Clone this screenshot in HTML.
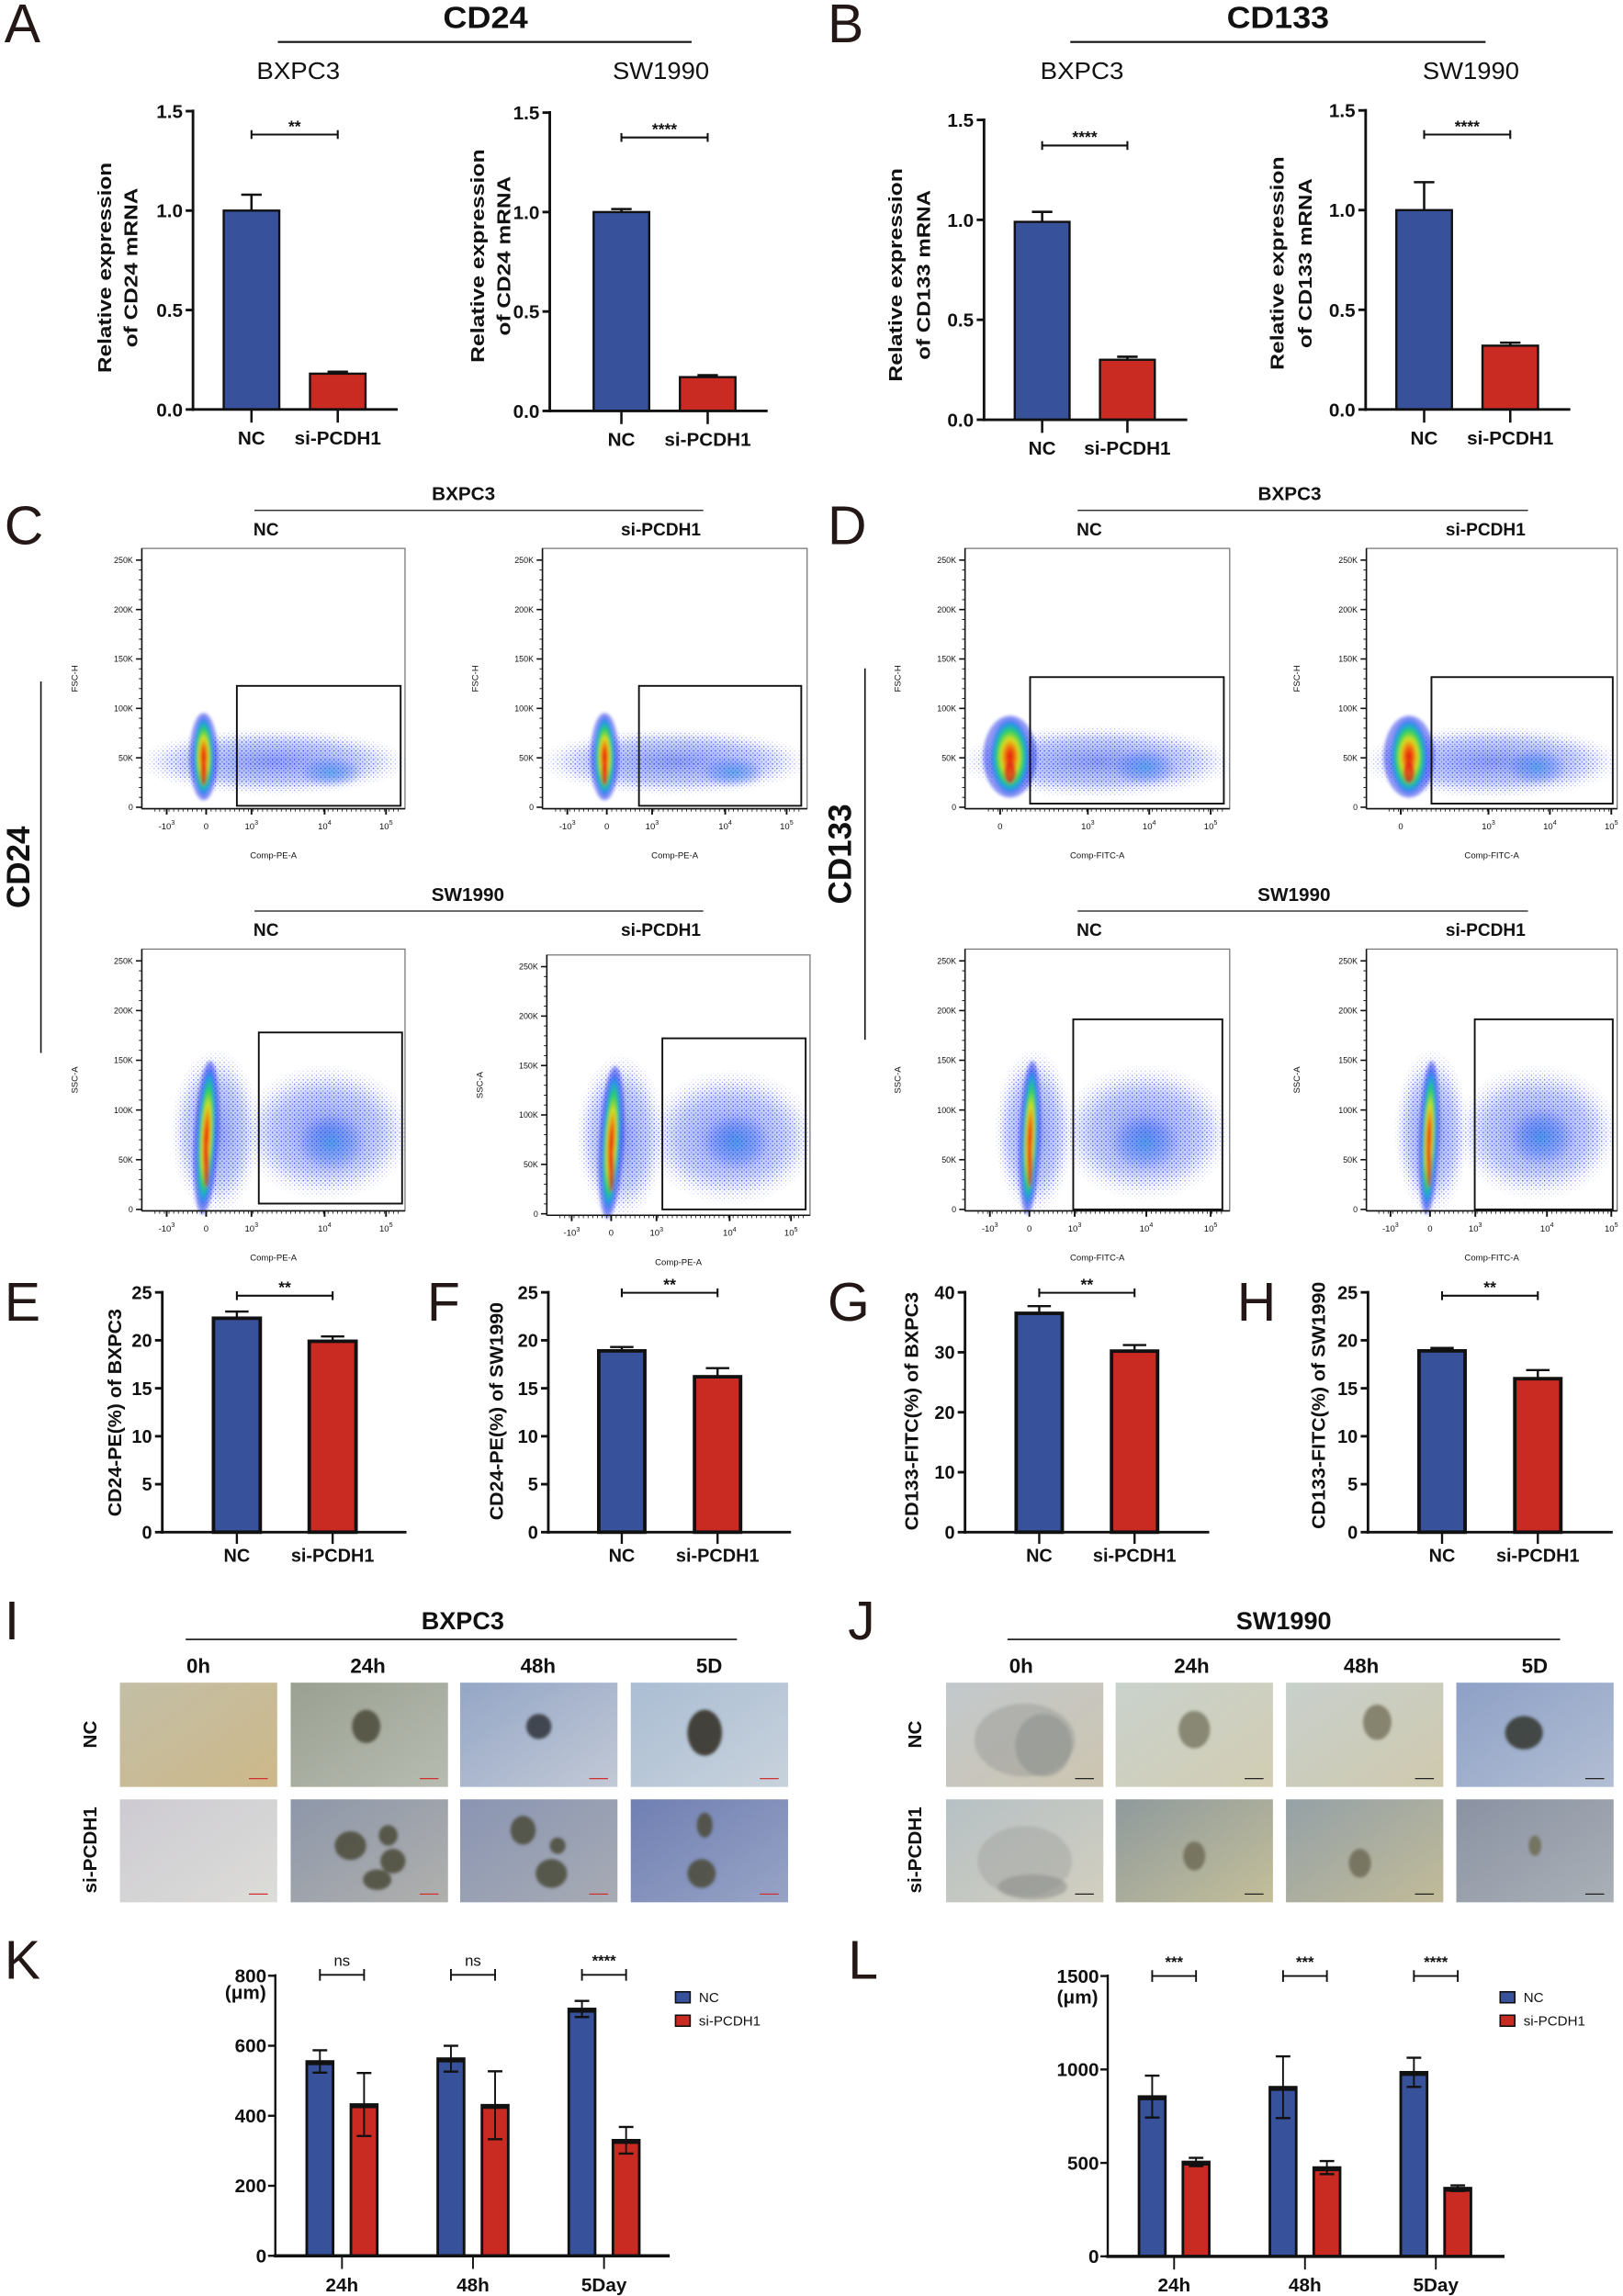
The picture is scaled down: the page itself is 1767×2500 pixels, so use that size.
<!DOCTYPE html>
<html><head><meta charset="utf-8">
<style>
html,body{margin:0;padding:0;background:#fff;}
svg{display:block;}
text{font-family:"Liberation Sans",Arial,sans-serif;}
</style></head>
<body>
<svg id="fig" xmlns="http://www.w3.org/2000/svg" width="1767" height="2500" viewBox="0 0 1110 1570" preserveAspectRatio="none">
<defs>
<radialGradient id="gDense" cx="50%" cy="50%" r="50%">
<stop offset="0" stop-color="#e01010"/><stop offset="0.25" stop-color="#f07010"/><stop offset="0.45" stop-color="#d8e020"/><stop offset="0.65" stop-color="#30d060"/><stop offset="0.82" stop-color="#20a0e0"/><stop offset="1" stop-color="#2030ff" stop-opacity="0"/>
</radialGradient>
<radialGradient id="gBlue" cx="50%" cy="50%" r="50%">
<stop offset="0" stop-color="#2040e8" stop-opacity="0.5"/><stop offset="0.7" stop-color="#3050f0" stop-opacity="0.25"/><stop offset="1" stop-color="#6070ff" stop-opacity="0"/>
</radialGradient>
<radialGradient id="gCyan" cx="50%" cy="50%" r="50%">
<stop offset="0" stop-color="#2090e0" stop-opacity="0.6"/><stop offset="1" stop-color="#2040f0" stop-opacity="0"/>
</radialGradient>
<radialGradient id="gMask" cx="50%" cy="50%" r="50%">
<stop offset="0" stop-color="#fff" stop-opacity="1"/><stop offset="0.75" stop-color="#fff" stop-opacity="0.8"/><stop offset="1" stop-color="#fff" stop-opacity="0"/>
</radialGradient>
<pattern id="pDots" width="3" height="3" patternUnits="userSpaceOnUse">
<rect x="0" y="0" width="0.8" height="0.8" fill="#1020f0"/><rect x="1.6" y="1.7" width="0.7" height="0.7" fill="#4060ff"/>
</pattern>
<filter id="fBlur" x="-30%" y="-30%" width="160%" height="160%"><feGaussianBlur stdDeviation="2"/></filter>
<filter id="fBlur1"><feGaussianBlur stdDeviation="1"/></filter>
</defs>
</svg>
<script>
// ===== Panel A / B data (qPCR) =====
const catsTwo = ['NC', 'si-PCDH1'];
const aBxpc3Mean = [1.0, 0.18];
const aBxpc3Err = [0.08, 0.01];
const aSw1990Mean = [1.0, 0.17];
const aSw1990Err = [0.015, 0.01];
const bBxpc3Mean = [0.99, 0.30];
const bBxpc3Err = [0.05, 0.015];
const bSw1990Mean = [1.0, 0.32];
const bSw1990Err = [0.14, 0.015];
const ticksExpr = [0, 0.5, 1.0, 1.5];
const tickLabelsExpr = ['0.0', '0.5', '1.0', '1.5'];
// ===== Panels E-H data (flow %) =====
const eMean = [22.3, 19.9];
const eErr = [0.7, 0.5];
const fMean = [18.9, 16.2];
const fErr = [0.4, 0.9];
const gMean = [36.5, 30.2];
const gErr = [1.2, 1.0];
const hMean = [18.9, 16.0];
const hErr = [0.3, 0.9];
const ticks25 = [0, 5, 10, 15, 20, 25];
const ticks40 = [0, 10, 20, 30, 40];
// ===== Panels K / L data (sphere diameter) =====
const timeCats = ['24h', '48h', '5Day'];
const seriesNames = ['NC', 'si-PCDH1'];
const kNcMean = [555, 563, 705];
const kNcErr = [32, 37, 23];
const kSiMean = [432, 430, 330];
const kSiErr = [90, 97, 38];
const kSig = ['ns', 'ns', '****'];
const kTicks = [0, 200, 400, 600, 800];
const lNcMean = [855, 905, 985];
const lNcErr = [112, 165, 78];
const lSiMean = [505, 475, 365];
const lSiErr = [22, 35, 15];
const lSig = ['***', '***', '****'];
const lTicks = [0, 500, 1000, 1500];

const NS = 'http://www.w3.org/2000/svg';
const svg = document.getElementById('fig');
const BLUE = '#37519b', RED = '#c92a22';

function mk(parent, tag, attrs, name, inter) {
  const el = document.createElementNS(NS, tag);
  for (const k in attrs) el.setAttribute(k, attrs[k]);
  
  
  parent.appendChild(el);
  return el;
}
function txt(parent, x, y, s, size, name, opt) {
  opt = opt || {};
  const a = {x: x, y: y, 'font-size': size, 'text-anchor': opt.anchor || 'middle', fill: opt.fill || '#111'};
  if (opt.bold) a['font-weight'] = 'bold';
  if (opt.len) { a.textLength = opt.len; a.lengthAdjust = 'spacingAndGlyphs'; }
  if (opt.rot) a.transform = 'rotate(-90 ' + x + ' ' + y + ')';
  const t = mk(parent, 'text', a, name, false);
  t.textContent = s;
  return t;
}
function line(parent, x1, y1, x2, y2, w, name, col) {
  return mk(parent, 'line', {x1: x1, y1: y1, x2: x2, y2: y2, stroke: col || '#111', 'stroke-width': w}, name, false);
}
function letter(s, x, y) { txt(svg, x, y, s, 37, 'panel-label-' + s.toLowerCase(), {anchor: 'start', fill: '#231815'}); }

// ---------- simple two-bar chart ----------
function twoBar(c, means, errs, ticks, tickLabels, sig) {
  const g = mk(svg, 'g', {}, c.name, false);
  const yScale = v => c.y0 - v / c.max * (c.y0 - c.yTop);
  const xScale = i => c.x0 + i * c.step;
  for (let i = 0; i < means.length; i++) {
    const top = yScale(means[i]);
    const errTop = yScale(means[i] + errs[i]);
    const cx = xScale(i) + c.bw / 2;
    line(g, cx, errTop, cx, top, c.ew, 'error-bar-' + catsTwo[i].toLowerCase());
    line(g, cx - c.cap, errTop, cx + c.cap, errTop, c.ew, 'error-cap-' + catsTwo[i].toLowerCase());
    mk(g, 'rect', {x: xScale(i), y: top, width: c.bw, height: c.y0 - top, fill: i === 0 ? BLUE : RED, stroke: '#111', 'stroke-width': c.bs}, 'bar-' + catsTwo[i].toLowerCase(), true);
    line(g, cx, c.y0, cx, c.y0 + c.tickDown, c.ew, 'x-tick');
    txt(g, cx, c.labY, catsTwo[i], c.fs, 'x-label-' + catsTwo[i].toLowerCase(), {bold: true});
  }
  line(g, c.ax, c.yTop - 1, c.ax, c.y0 + 1, c.aw, 'y-axis');
  line(g, c.ax - 1, c.y0, c.xEnd, c.y0, c.aw, 'x-axis');
  for (let i = 0; i < ticks.length; i++) {
    const y = yScale(ticks[i]);
    line(g, c.ax - 5, y, c.ax, y, c.aw, 'y-tick');
    txt(g, c.ax - 7, y + c.fs * 0.36, tickLabels[i], c.fs, 'y-tick-label', {bold: true, anchor: 'end'});
  }
  const s1 = xScale(0) + c.bw / 2, s2 = xScale(1) + c.bw / 2;
  line(g, s1, c.sigY, s2, c.sigY, 1.3, 'significance-bracket');
  line(g, s1, c.sigY - 3, s1, c.sigY + 3, 1.3, 'significance-bracket-end');
  line(g, s2, c.sigY - 3, s2, c.sigY + 3, 1.3, 'significance-bracket-end');
  txt(g, (s1 + s2) / 2, c.sigY - 2, sig, 11, 'significance-label', {bold: true});
  c.ylab.forEach(L => txt(g, L.x, c.ylabCy, L.s, c.ylfs, 'y-axis-title', {bold: true, rot: true, len: L.len}));
  return g;
}

// Panel A
letter('A', 3, 29);
txt(svg, 332, 19, 'CD24', 21, 'panel-a-title', {bold: true, len: 58});
line(svg, 190, 28.7, 473, 28.7, 1.3, 'panel-a-title-rule');
txt(svg, 204, 54, 'BXPC3', 16, 'chart-a1-title', {len: 57});
txt(svg, 452, 54, 'SW1990', 16, 'chart-a2-title', {len: 66});
twoBar({name: 'chart-a-bxpc3', x0: 153, step: 59, bw: 38, ax: 132, xEnd: 272, y0: 280, yTop: 76, max: 1.5, ew: 1.6, cap: 7, bs: 1.5, aw: 1.8, tickDown: 9, labY: 304, fs: 13, sigY: 92,
  ylab: [{x: 76, s: 'Relative expression', len: 144}, {x: 94, s: 'of CD24 mRNA', len: 109}], ylabCy: 183, ylfs: 13}, aBxpc3Mean, aBxpc3Err, ticksExpr, tickLabelsExpr, '**');
twoBar({name: 'chart-a-sw1990', x0: 406, step: 59, bw: 38, ax: 376, xEnd: 525, y0: 281, yTop: 77, max: 1.5, ew: 1.6, cap: 7, bs: 1.5, aw: 1.8, tickDown: 9, labY: 305, fs: 13, sigY: 94,
  ylab: [{x: 331, s: 'Relative expression', len: 146}, {x: 349, s: 'of CD24 mRNA', len: 109}], ylabCy: 175, ylfs: 13}, aSw1990Mean, aSw1990Err, ticksExpr, tickLabelsExpr, '****');

// Panel B
letter('B', 566, 29);
txt(svg, 874, 19, 'CD133', 21, 'panel-b-title', {bold: true, len: 70});
line(svg, 732, 28.7, 1016, 28.7, 1.3, 'panel-b-title-rule');
txt(svg, 740, 54, 'BXPC3', 16, 'chart-b1-title', {len: 57});
txt(svg, 1006, 54, 'SW1990', 16, 'chart-b2-title', {len: 66});
twoBar({name: 'chart-b-bxpc3', x0: 694, step: 58.3, bw: 37.5, ax: 673, xEnd: 812, y0: 287, yTop: 82, max: 1.5, ew: 1.6, cap: 7, bs: 1.5, aw: 1.8, tickDown: 9, labY: 311, fs: 13, sigY: 99.5,
  ylab: [{x: 617, s: 'Relative expression', len: 146}, {x: 636, s: 'of CD133 mRNA', len: 116}], ylabCy: 188, ylfs: 13}, bBxpc3Mean, bBxpc3Err, ticksExpr, tickLabelsExpr, '****');
twoBar({name: 'chart-b-sw1990', x0: 955, step: 58.9, bw: 38, ax: 934, xEnd: 1074, y0: 280, yTop: 75.5, max: 1.5, ew: 1.6, cap: 7, bs: 1.5, aw: 1.8, tickDown: 9, labY: 304, fs: 13, sigY: 92,
  ylab: [{x: 878, s: 'Relative expression', len: 146}, {x: 897, s: 'of CD133 mRNA', len: 116}], ylabCy: 180, ylfs: 13}, bSw1990Mean, bSw1990Err, ticksExpr, tickLabelsExpr, '****');

// ---------- flow cytometry plots ----------
const flowYLabels = ['250K', '200K', '150K', '100K', '50K', '0'];
let maskCount = 0;
function flowPlot(p) {
  const g = mk(svg, 'g', {}, p.name, false);
  const w = p.x2 - p.x1, h = p.y2 - p.y1;
  mk(g, 'rect', {x: p.x1, y: p.y1, width: w, height: h, fill: '#fff', stroke: '#777', 'stroke-width': 0.8}, 'plot-frame', false);
  // speckle mask
  const mid = 'mk' + (maskCount++);
  const m = mk(svg.querySelector('defs'), 'mask', {id: mid}, 'speckle-mask', false);
  p.sparse.forEach(s => mk(m, 'ellipse', {cx: p.x1 + s[0] * w, cy: p.y1 + s[1] * h, rx: s[2] * w, ry: s[3] * h, fill: 'url(#gMask)'}, 'mask-shape', false));
  mk(g, 'rect', {x: p.x1, y: p.y1, width: w, height: h, fill: 'url(#pDots)', mask: 'url(#' + mid + ')'}, 'sparse-events', false);
  const cl = mk(g, 'g', {filter: 'url(#fBlur1)'}, 'event-cloud', false);
  p.sparse.forEach(s => mk(cl, 'ellipse', {cx: p.x1 + s[0] * w, cy: p.y1 + s[1] * h, rx: s[2] * w * 0.9, ry: s[3] * h * 0.85, fill: 'url(#gBlue)'}, 'sparse-density', false));
  p.cyan.forEach(s => mk(cl, 'ellipse', {cx: p.x1 + s[0] * w, cy: p.y1 + s[1] * h, rx: s[2] * w, ry: s[3] * h, fill: 'url(#gCyan)'}, 'mid-density', false));
  const d = p.dense;
  const tr = 'rotate(' + (d[4] || 0) + ' ' + (p.x1 + d[0] * w) + ' ' + (p.y1 + d[1] * h) + ')';
  mk(cl, 'ellipse', {cx: p.x1 + d[0] * w, cy: p.y1 + d[1] * h, rx: d[2] * w * 1.35, ry: d[3] * h * 1.05, fill: '#2030e8', opacity: 0.5, transform: tr}, 'dense-halo', false);
  mk(cl, 'ellipse', {cx: p.x1 + d[0] * w, cy: p.y1 + d[1] * h, rx: d[2] * w, ry: d[3] * h, fill: 'url(#gDense)', transform: tr}, 'dense-population', false);
  mk(cl, 'ellipse', {cx: p.x1 + d[0] * w, cy: p.y1 + (d[1] + d[3] * 0.4) * h, rx: d[2] * w * 0.3, ry: d[3] * h * 0.28, fill: '#e01818', opacity: 0.7}, 'dense-core', false);
  mk(g, 'rect', {x: p.gx1, y: p.gy1, width: p.gx2 - p.gx1, height: p.gy2 - p.gy1, fill: 'none', stroke: '#111', 'stroke-width': 1.2}, 'gate', true);
  line(g, p.x1, p.y1, p.x1, p.y2, 1, 'y-axis');
  const ys = i => (p.y1 + 8 * h / 178) + i * (h - 9 * h / 178) / 5;
  for (let i = 0; i < flowYLabels.length; i++) {
    line(g, p.x1 - 4, ys(i), p.x1, ys(i), 1, 'y-tick');
    txt(g, p.x1 - 6, ys(i) + 2, flowYLabels[i], 5.6, 'y-tick-label', {anchor: 'end'});
    if (i < 5) for (let k = 1; k < 5; k++) line(g, p.x1 - 2, ys(i) + k * (ys(1) - ys(0)) / 5, p.x1, ys(i) + k * (ys(1) - ys(0)) / 5, 0.6, 'y-minor-tick');
  }
  txt(g, p.yt, p.y1 + h * 0.5, p.ytitle, 6, 'y-axis-title', {rot: true});
  line(g, p.x1, p.y2, p.x2, p.y2, 1, 'x-axis');
  for (let x = p.xt[0].x - 8; x < p.x2 - 3; x += 3.2) line(g, x, p.y2, x, p.y2 + 2, 0.5, 'x-minor-tick');
  p.xt.forEach(t => {
    line(g, t.x, p.y2, t.x, p.y2 + 4, 1.2, 'x-tick');
    const tt = txt(g, t.x, p.y2 + 14, t.s, 6, 'x-tick-label');
    if (t.e) { const sp = document.createElementNS(NS, 'tspan'); sp.setAttribute('dy', -3); sp.setAttribute('font-size', 4.5); sp.textContent = t.e; tt.appendChild(sp); }
  });
  txt(g, p.x1 + w * 0.5, p.y2 + 34, p.xtitle, 6, 'x-axis-title');
}
function xtSet(a) { return a.map(v => ({x: v[0], s: v[1], e: v[2]})); }

// Panel C
letter('C', 3, 372);
txt(svg, 317, 342, 'BXPC3', 13, 'panel-c-bxpc3-title', {bold: true});
line(svg, 174, 349, 481, 349, 0.8, 'panel-c-bxpc3-rule');
txt(svg, 182, 366, 'NC', 12, 'panel-c-nc-label', {bold: true});
txt(svg, 452, 366, 'si-PCDH1', 12, 'panel-c-si-label', {bold: true});
txt(svg, 20, 593, 'CD24', 22, 'panel-c-marker-title', {bold: true, rot: true});
line(svg, 28, 466, 28, 720, 1, 'panel-c-marker-rule');
const xtC1 = [[114, '-10', '3'], [141, '0'], [172, '10', '3'], [222, '10', '4'], [264, '10', '5']];
flowPlot({name: 'flow-c-bxpc3-nc', x1: 97, y1: 375, x2: 277, y2: 553, gx1: 162, gy1: 469, gx2: 274, gy2: 551, yt: 53, ytitle: 'FSC-H', xtitle: 'Comp-PE-A',
  xt: xtSet(xtC1), sparse: [[0.5, 0.82, 0.52, 0.13]], cyan: [[0.72, 0.86, 0.12, 0.06]], dense: [0.235, 0.8, 0.04, 0.16, 0]});
flowPlot({name: 'flow-c-bxpc3-si', x1: 371, y1: 375, x2: 552, y2: 553, gx1: 437, gy1: 469, gx2: 548, gy2: 551, yt: 327, ytitle: 'FSC-H', xtitle: 'Comp-PE-A',
  xt: xtSet(xtC1.map(v => [v[0] + 274, v[1], v[2]])), sparse: [[0.5, 0.82, 0.52, 0.13]], cyan: [[0.72, 0.86, 0.12, 0.06]], dense: [0.235, 0.8, 0.04, 0.16, 0]});
txt(svg, 320, 616, 'SW1990', 13, 'panel-c-sw1990-title', {bold: true});
line(svg, 174, 623, 481, 623, 0.8, 'panel-c-sw1990-rule');
txt(svg, 182, 640, 'NC', 12, 'panel-c-nc-label-2', {bold: true});
txt(svg, 452, 640, 'si-PCDH1', 12, 'panel-c-si-label-2', {bold: true});
flowPlot({name: 'flow-c-sw1990-nc', x1: 97, y1: 649, x2: 277, y2: 828, gx1: 177, gy1: 706, gx2: 275, gy2: 823, yt: 53, ytitle: 'SSC-A', xtitle: 'Comp-PE-A',
  xt: xtSet(xtC1), sparse: [[0.28, 0.7, 0.17, 0.32], [0.7, 0.7, 0.33, 0.26]], cyan: [[0.72, 0.74, 0.13, 0.11]], dense: [0.245, 0.72, 0.035, 0.28, 3]});
flowPlot({name: 'flow-c-sw1990-si', x1: 374, y1: 653, x2: 554, y2: 831, gx1: 453, gy1: 710, gx2: 551, gy2: 827, yt: 330, ytitle: 'SSC-A', xtitle: 'Comp-PE-A',
  xt: xtSet(xtC1.map(v => [v[0] + 277, v[1], v[2]])), sparse: [[0.28, 0.7, 0.17, 0.32], [0.7, 0.7, 0.33, 0.26]], cyan: [[0.72, 0.72, 0.13, 0.11]], dense: [0.245, 0.72, 0.035, 0.28, 3]});

// Panel D
letter('D', 566, 372);
txt(svg, 882, 342, 'BXPC3', 13, 'panel-d-bxpc3-title', {bold: true});
line(svg, 737, 349, 1045, 349, 0.8, 'panel-d-bxpc3-rule');
txt(svg, 745, 366, 'NC', 12, 'panel-d-nc-label', {bold: true});
txt(svg, 1016, 366, 'si-PCDH1', 12, 'panel-d-si-label', {bold: true});
txt(svg, 582, 584, 'CD133', 22, 'panel-d-marker-title', {bold: true, rot: true});
line(svg, 591.6, 457, 591.6, 711, 1, 'panel-d-marker-rule');
const xtD1 = [[684, '0'], [744, '10', '3'], [786, '10', '4'], [828, '10', '5']];
flowPlot({name: 'flow-d-bxpc3-nc', x1: 660, y1: 375, x2: 841, y2: 553, gx1: 704.5, gy1: 463, gx2: 837, gy2: 549.5, yt: 616, ytitle: 'FSC-H', xtitle: 'Comp-FITC-A',
  xt: xtSet(xtD1), sparse: [[0.5, 0.82, 0.53, 0.14]], cyan: [[0.68, 0.84, 0.12, 0.07]], dense: [0.17, 0.8, 0.075, 0.15, 0]});
flowPlot({name: 'flow-d-bxpc3-si', x1: 934.5, y1: 375, x2: 1106, y2: 553, gx1: 979, gy1: 463, gx2: 1103, gy2: 549.5, yt: 889, ytitle: 'FSC-H', xtitle: 'Comp-FITC-A',
  xt: xtSet(xtD1.map(v => [v[0] + 274, v[1], v[2]])), sparse: [[0.5, 0.82, 0.53, 0.14]], cyan: [[0.68, 0.84, 0.12, 0.07]], dense: [0.17, 0.8, 0.075, 0.15, 0]});
txt(svg, 885, 616, 'SW1990', 13, 'panel-d-sw1990-title', {bold: true});
line(svg, 737, 623, 1045, 623, 0.8, 'panel-d-sw1990-rule');
txt(svg, 745, 640, 'NC', 12, 'panel-d-nc-label-2', {bold: true});
txt(svg, 1016, 640, 'si-PCDH1', 12, 'panel-d-si-label-2', {bold: true});
const xtD2 = [[677, '-10', '3'], [704, '0'], [735, '10', '3'], [784, '10', '4'], [828, '10', '5']];
flowPlot({name: 'flow-d-sw1990-nc', x1: 660, y1: 649, x2: 841, y2: 828, gx1: 734, gy1: 697, gx2: 836, gy2: 827, yt: 616, ytitle: 'SSC-A', xtitle: 'Comp-FITC-A',
  xt: xtSet(xtD2), sparse: [[0.26, 0.7, 0.15, 0.32], [0.68, 0.7, 0.33, 0.26]], cyan: [[0.68, 0.74, 0.13, 0.11]], dense: [0.245, 0.72, 0.03, 0.28, 2]});
flowPlot({name: 'flow-d-sw1990-si', x1: 934.5, y1: 649, x2: 1106, y2: 828, gx1: 1008.6, gy1: 697, gx2: 1103, gy2: 827, yt: 889, ytitle: 'SSC-A', xtitle: 'Comp-FITC-A',
  xt: xtSet(xtD2.map(v => [v[0] + 274, v[1], v[2]])), sparse: [[0.26, 0.7, 0.15, 0.32], [0.68, 0.7, 0.33, 0.26]], cyan: [[0.7, 0.72, 0.13, 0.11]], dense: [0.25, 0.72, 0.03, 0.28, 2]});

// Panels E-H
const toS = a => a.map(v => String(v));
letter('E', 3, 903);
twoBar({name: 'chart-e', x0: 146, step: 65.5, bw: 32, ax: 111, xEnd: 278, y0: 1047.7, yTop: 883.7, max: 25, ew: 1.5, cap: 8, bs: 2.4, aw: 1.8, tickDown: 8, labY: 1068, fs: 12.5, sigY: 886,
  ylab: [{x: 83, s: 'CD24-PE(%) of BXPC3', len: 142}], ylabCy: 966, ylfs: 12.5}, eMean, eErr, ticks25, toS(ticks25), '**');
letter('F', 292, 903);
twoBar({name: 'chart-f', x0: 409.5, step: 65.5, bw: 31.5, ax: 375, xEnd: 541, y0: 1047.7, yTop: 883.7, max: 25, ew: 1.5, cap: 8, bs: 2.4, aw: 1.8, tickDown: 8, labY: 1068, fs: 12.5, sigY: 884,
  ylab: [{x: 344, s: 'CD24-PE(%) of SW1990', len: 149}], ylabCy: 965, ylfs: 12.5}, fMean, fErr, ticks25, toS(ticks25), '**');
letter('G', 566, 903);
twoBar({name: 'chart-g', x0: 695, step: 65.2, bw: 31.5, ax: 660, xEnd: 827, y0: 1047.7, yTop: 883.7, max: 40, ew: 1.5, cap: 8, bs: 2.4, aw: 1.8, tickDown: 8, labY: 1068, fs: 12.5, sigY: 884,
  ylab: [{x: 628, s: 'CD133-FITC(%) of BXPC3', len: 163}], ylabCy: 965, ylfs: 12.5}, gMean, gErr, ticks40, toS(ticks40), '**');
letter('H', 846, 903);
twoBar({name: 'chart-h', x0: 970.5, step: 65.5, bw: 31.5, ax: 935.6, xEnd: 1103, y0: 1047.7, yTop: 883.7, max: 25, ew: 1.5, cap: 8, bs: 2.4, aw: 1.8, tickDown: 8, labY: 1068, fs: 12.5, sigY: 886,
  ylab: [{x: 906, s: 'CD133-FITC(%) of SW1990', len: 169}], ylabCy: 961, ylfs: 12.5}, hMean, hErr, ticks25, toS(ticks25), '**');

// ---------- microscopy panels ----------
function micro(x, y, w, h, c1, c2, blobs, name, barCol) {
  const g = mk(svg, 'g', {}, name, true);
  const id = 'lg' + Math.round(x) + '_' + Math.round(y);
  const lg = mk(svg.querySelector('defs'), 'linearGradient', {id: id, x1: 0, y1: 0, x2: 1, y2: 1}, 'image-gradient', false);
  mk(lg, 'stop', {offset: 0, 'stop-color': c1}, 'stop', false);
  mk(lg, 'stop', {offset: 1, 'stop-color': c2}, 'stop', false);
  mk(g, 'rect', {x: x, y: y, width: w, height: h, fill: 'url(#' + id + ')'}, 'image-background', false);
  const bg = mk(g, 'g', {filter: 'url(#fBlur1)'}, 'cell-clusters', false);
  blobs.forEach(b => mk(bg, 'ellipse', {cx: x + b[0] * w, cy: y + b[1] * h, rx: b[2] * w, ry: b[3] * h, fill: b[4] || '#4a4a3a', opacity: b[5] || 0.85}, 'cell-cluster', false));
  line(g, x + w * 0.82, y + h * 0.92, x + w * 0.94, y + h * 0.92, 0.8, 'scale-bar', barCol || '#d03030');
}
const colX_I = [82, 198.8, 314.7, 431.4], colX_J = [647, 763, 879.5, 996];
const IW = 107.6;
letter('I', 3, 1121);
txt(svg, 316.5, 1114, 'BXPC3', 17, 'panel-i-title', {bold: true});
line(svg, 127, 1121, 504, 1121, 1, 'panel-i-rule');
['0h', '24h', '48h', '5D'].forEach((t, i) => txt(svg, [135.7, 251.6, 368, 485][i], 1144, t, 14, 'panel-i-time-' + t.toLowerCase(), {bold: true}));
txt(svg, 66, 1186, 'NC', 13, 'panel-i-row-nc', {bold: true, rot: true});
txt(svg, 66, 1265, 'si-PCDH1', 13, 'panel-i-row-si', {bold: true, rot: true});
micro(colX_I[0], 1150.6, IW, 71.3, '#c3bea6', '#cdb889', [], 'image-i-nc-0h');
micro(colX_I[1], 1150.6, IW, 71.3, '#9aa092', '#b7bcb0', [[0.48, 0.42, 0.09, 0.16]], 'image-i-nc-24h');
micro(colX_I[2], 1150.6, IW, 71.3, '#94a6c6', '#c2c9d6', [[0.5, 0.42, 0.08, 0.12, '#2f3138']], 'image-i-nc-48h');
micro(colX_I[3], 1150.6, IW, 71.3, '#aabdd3', '#c8d2dc', [[0.47, 0.48, 0.11, 0.22, '#2d2a22']], 'image-i-nc-5d');
micro(colX_I[0], 1230.4, IW, 70.4, '#cdcbd2', '#dcdcd8', [], 'image-i-si-0h');
micro(colX_I[1], 1230.4, IW, 70.4, '#8d97aa', '#b0b0ad', [[0.38, 0.45, 0.1, 0.14], [0.62, 0.35, 0.06, 0.1], [0.65, 0.6, 0.08, 0.12], [0.55, 0.78, 0.09, 0.1]], 'image-i-si-24h');
micro(colX_I[2], 1230.4, IW, 70.4, '#8a95b3', '#a7abb3', [[0.4, 0.3, 0.08, 0.14], [0.58, 0.72, 0.1, 0.14], [0.62, 0.45, 0.05, 0.08]], 'image-i-si-48h');
micro(colX_I[3], 1230.4, IW, 70.4, '#6f7fb2', '#98a4c6', [[0.47, 0.25, 0.05, 0.12], [0.45, 0.72, 0.09, 0.14]], 'image-i-si-5d');

letter('J', 580, 1121);
txt(svg, 878, 1114, 'SW1990', 17, 'panel-j-title', {bold: true});
line(svg, 689, 1121, 1067, 1121, 1, 'panel-j-rule');
['0h', '24h', '48h', '5D'].forEach((t, i) => txt(svg, [698.4, 815, 931, 1049.6][i], 1144, t, 14, 'panel-j-time-' + t.toLowerCase(), {bold: true}));
txt(svg, 630, 1186, 'NC', 13, 'panel-j-row-nc', {bold: true, rot: true});
txt(svg, 630, 1265, 'si-PCDH1', 13, 'panel-j-row-si', {bold: true, rot: true});
micro(colX_J[0], 1150.6, IW, 71.3, '#c2c8cc', '#cdc5b0', [[0.5, 0.55, 0.32, 0.35, '#9a9c98', 0.5], [0.62, 0.6, 0.18, 0.3, '#8e918d', 0.6]], 'image-j-nc-0h', '#222');
micro(colX_J[1], 1150.6, IW, 71.3, '#c9d2cc', '#d2cdb3', [[0.5, 0.45, 0.1, 0.18, '#7d7b66']], 'image-j-nc-24h', '#222');
micro(colX_J[2], 1150.6, IW, 71.3, '#c8d0cc', '#cfc9ae', [[0.58, 0.38, 0.09, 0.17, '#7a7760']], 'image-j-nc-48h', '#222');
micro(colX_J[3], 1150.6, IW, 71.3, '#8da0c6', '#b2bed3', [[0.43, 0.48, 0.12, 0.16, '#33352f']], 'image-j-nc-5d', '#222');
micro(colX_J[0], 1230.4, IW, 70.4, '#b6c0c4', '#d2cfc0', [[0.5, 0.6, 0.3, 0.34, '#a2a4a0', 0.5], [0.55, 0.85, 0.22, 0.12, '#8f918c', 0.6]], 'image-j-si-0h', '#222');
micro(colX_J[1], 1230.4, IW, 70.4, '#8f9a9c', '#c4bf9a', [[0.5, 0.55, 0.07, 0.14, '#6f6b55']], 'image-j-si-24h', '#222');
micro(colX_J[2], 1230.4, IW, 70.4, '#95a1a7', '#c1bb98', [[0.47, 0.62, 0.07, 0.14, '#6f6b55']], 'image-j-si-48h', '#222');
micro(colX_J[3], 1230.4, IW, 70.4, '#8a92a3', '#aab0b6', [[0.5, 0.45, 0.04, 0.1, '#6f6b55']], 'image-j-si-5d', '#222');

// ---------- grouped bar charts K / L ----------
function grouped(c, ncM, ncE, siM, siE, sig, ticks) {
  const g = mk(svg, 'g', {}, c.name, false);
  const yScale = v => c.y0 - v / c.max * (c.y0 - c.yTop);
  const xScale = (gi, si) => c.x0 + gi * c.gstep + si * c.sstep;
  const series = [[ncM, ncE, BLUE], [siM, siE, RED]];
  for (let gi = 0; gi < timeCats.length; gi++) {
    for (let si = 0; si < 2; si++) {
      const m = series[si][0][gi], e = series[si][1][gi];
      const x = xScale(gi, si), top = yScale(m), cx = x + c.bw / 2;
      mk(g, 'rect', {x: x, y: top, width: c.bw, height: c.y0 - top, fill: series[si][2], stroke: '#111', 'stroke-width': 1.8}, 'bar-' + seriesNames[si].toLowerCase() + '-' + timeCats[gi].toLowerCase(), true);
      line(g, x - 0.5, top + 1, x + c.bw + 0.5, top + 1, 3, 'bar-top-edge');
      line(g, cx, yScale(m + e), cx, yScale(m - e), 1.2, 'error-bar');
      line(g, cx - 5, yScale(m + e), cx + 5, yScale(m + e), 1.5, 'error-cap-upper');
      line(g, cx - 5, yScale(m - e), cx + 5, yScale(m - e), 1.5, 'error-cap-lower');
    }
    const s1 = xScale(gi, 0) + c.bw / 2, s2 = xScale(gi, 1) + c.bw / 2, mid = (s1 + s2) / 2;
    line(g, s1, c.sigY, s2, c.sigY, 1.2, 'significance-bracket');
    line(g, s1, c.sigY - 4, s1, c.sigY + 4, 1.2, 'significance-bracket-end');
    line(g, s2, c.sigY - 4, s2, c.sigY + 4, 1.2, 'significance-bracket-end');
    txt(g, mid, c.sigY - 6, sig[gi], 10.5, 'significance-label', {bold: sig[gi] !== 'ns'});
    line(g, mid, c.y0, mid, c.y0 + 9, 1.2, 'x-tick');
    txt(g, mid, c.labY, timeCats[gi], 13, 'x-label-' + timeCats[gi].toLowerCase(), {bold: true});
  }
  line(g, c.ax, c.yTop - 1, c.ax, c.y0 + 1, 1.5, 'y-axis');
  line(g, c.ax - 1, c.y0, c.xEnd, c.y0, 2.2, 'x-axis');
  ticks.forEach(t => {
    const y = yScale(t);
    line(g, c.ax - 5, y, c.ax, y, 1.5, 'y-tick');
    txt(g, c.ax - 6, y + 4.5, String(t), 13, 'y-tick-label', {bold: true, anchor: 'end'});
  });
  txt(g, c.unitX, c.unitY, '(μm)', 13, 'y-axis-unit', {bold: true, anchor: 'end'});
  mk(g, 'rect', {x: c.legX, y: c.legY, width: 10, height: 7.5, fill: BLUE, stroke: '#111', 'stroke-width': 1}, 'legend-swatch-nc', false);
  txt(g, c.legX + 16, c.legY + 7, 'NC', 9.5, 'legend-entry-nc', {anchor: 'start'});
  mk(g, 'rect', {x: c.legX, y: c.legY + 16, width: 10, height: 7.5, fill: RED, stroke: '#111', 'stroke-width': 1}, 'legend-swatch-si-pcdh1', false);
  txt(g, c.legX + 16, c.legY + 23, 'si-PCDH1', 9.5, 'legend-entry-si-pcdh1', {anchor: 'start'});
}
letter('K', 3, 1353);
grouped({name: 'chart-k', x0: 209.8, gstep: 89.6, sstep: 30.2, bw: 18, ax: 188.3, xEnd: 458, y0: 1542.5, yTop: 1351, max: 800, sigY: 1350.4, labY: 1567, unitX: 182, unitY: 1366.7, legX: 462, legY: 1362}, kNcMean, kNcErr, kSiMean, kSiErr, kSig, kTicks);
letter('L', 580, 1353);
grouped({name: 'chart-l', x0: 779, gstep: 89.5, sstep: 30, bw: 18, ax: 757.6, xEnd: 1029, y0: 1542.9, yTop: 1351.2, max: 1500, sigY: 1351.2, labY: 1567, unitX: 751, unitY: 1370, legX: 1026, legY: 1362}, lNcMean, lNcErr, lSiMean, lSiErr, lSig, lTicks);
</script>
</body></html>
